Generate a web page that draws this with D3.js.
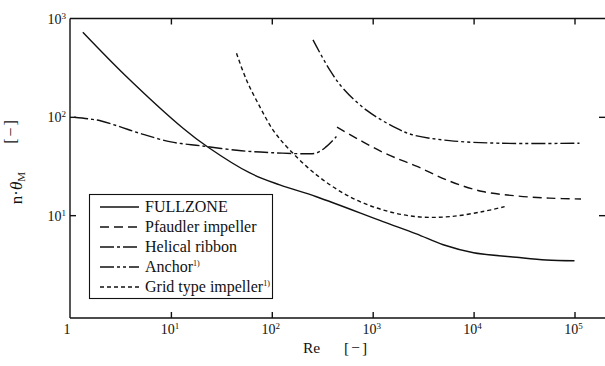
<!DOCTYPE html>
<html lang="en">
<head>
<meta charset="UTF-8">
<title>Mixing time vs Re</title>
<script src="https://d3js.org/d3.v7.min.js"></script>
<style>
  body { margin: 0; background: #fff; }
  svg { display: block; }
  .curve { fill: none; stroke: #111; stroke-width: 1.4px; }
  .axis path, .axis line { stroke: #111; stroke-width: 1.4px; }
</style>
</head>
<body>
<svg id="chart" width="605" height="366"></svg>
<script>
// values, [Re, n*thetaM]
const fullzone = [[1.34, 726], [3.64, 256], [13.2, 76.6], [23.2, 49.3], [60, 27], [120, 20.3],
  [277, 15.4], [1265, 8.6], [2710, 6.45], [5000, 5.0], [10000, 4.15], [26500, 3.73], [52500, 3.5], [100000, 3.44]];
const pfaudler = [[443, 78.4], [1265, 43.5], [2710, 31.5], [5780, 22.2], [12270, 17.4],
  [26500, 15.7], [56500, 14.9], [116000, 14.6]];
const helical = [[1.1, 99], [1.5, 95.5], [2, 91.2], [3, 80.4], [5, 67.6], [10, 55.6], [20, 50.7],
  [50, 45.2], [100, 43.2], [200, 42.2], [277, 42.9], [347, 49.8], [437, 63]];
const anchor = [[256, 606], [375, 300], [508, 195], [867, 117], [1718, 76.6], [2506, 65.5],
  [5780, 57.3], [18100, 53.9], [112000, 53.9]];
const gridType = [[44.7, 443], [56, 238], [76, 127], [103, 73.3], [145, 48], [277, 25.7],
  [592, 15.4], [1265, 11.3], [2710, 9.66], [5780, 9.66], [12400, 10.9], [20300, 12.2]];

const seriesNames = ['FULLZONE', 'Pfaudler impeller', 'Helical ribbon', 'Anchor', 'Grid type impeller'];
const seriesNotes = ['', '', '', '1)', '1)'];
const seriesData = [fullzone, pfaudler, helical, anchor, gridType];
const dashes = ['none', '9,5', '14,3,3,3', '14,3,3,3,3,3', '4,3'];

const xTicks = [1, 10, 100, 1000, 10000, 100000];
const xExp = ['', '1', '2', '3', '4', '5'];
const yTicks = [10, 100, 1000];
const yExp = ['1', '2', '3'];

const svg = d3.select('#chart').attr('font-family', 'Liberation Serif');
const x = d3.scaleLog().domain([1, 1e5]).range([70, 574.5]);
const y = d3.scaleLog().domain([0.9, 1000]).range([318, 18.5]);
const right = 605;

// axes
svg.append('g').attr('class', 'axis')
  .attr('transform', 'translate(0,318)')
  .call(d3.axisBottom(x).tickValues(xTicks.slice(1)).tickSize(-6).tickFormat(''))
  .call(g => g.select('.domain').attr('d', `M70,0H${right}`));

svg.append('g').attr('class', 'axis')
  .attr('transform', 'translate(0,18.5)')
  .call(d3.axisTop(x).tickValues(xTicks.slice(1)).tickSize(-6).tickFormat(''))
  .call(g => g.select('.domain').attr('d', `M70,0H${right}`));

svg.append('g').attr('class', 'axis')
  .attr('transform', 'translate(70,0)')
  .call(d3.axisLeft(y).tickValues(yTicks.slice(0, 2)).tickSize(-6).tickFormat(''))
  .call(g => g.select('.domain').attr('d', 'M0,18.5V318'));

svg.append('g').attr('class', 'axis')
  .attr('transform', `translate(${right},0)`)
  .call(d3.axisRight(y).tickValues(yTicks.slice(0, 2)).tickSize(-6).tickFormat(''))
  .call(g => g.select('.domain').remove());

svg.selectAll('.axis').attr('font-family', 'Liberation Serif');

// tick labels with superscripts
const xl = svg.append('g').attr('font-size', 14).attr('fill', '#111');
xTicks.forEach((t, i) => {
  const txt = xl.append('text').attr('x', i === 0 ? x(t) - 3 : x(t) - 1).attr('y', 334)
    .attr('text-anchor', 'middle');
  txt.append('tspan').text(i === 0 ? '1' : '10');
  if (xExp[i]) txt.append('tspan').attr('font-size', 9).attr('dy', -5).text(xExp[i]);
});

const yl = svg.append('g').attr('font-size', 14).attr('fill', '#111');
yTicks.forEach((t, i) => {
  const txt = yl.append('text').attr('x', 66).attr('y', y(t) + 5.5).attr('text-anchor', 'end');
  txt.append('tspan').text('10');
  txt.append('tspan').attr('font-size', 9).attr('dy', -5).text(yExp[i]);
});

// axis titles
const xt = svg.append('text').attr('y', 353).attr('font-size', 15.5).attr('fill', '#111');
xt.append('tspan').attr('x', 303).text('Re');
xt.append('tspan').attr('x', 344).attr('letter-spacing', 2).text('[−]');

const yt = svg.append('g').attr('transform', 'translate(22,188) rotate(-90)')
  .attr('font-size', 17).attr('fill', '#111');
const ytx = yt.append('text').attr('text-anchor', 'middle');
ytx.append('tspan').text('n·');
ytx.append('tspan').attr('font-style', 'italic').text('θ');
ytx.append('tspan').attr('font-size', 11).attr('dy', 3).text('M');
yt.append('text').attr('x', 57).attr('y', -6).attr('text-anchor', 'middle')
  .attr('letter-spacing', 2).attr('font-size', 16).text('[−]');

// curves
const line = d3.line()
  .x(d => x(d[0]))
  .y(d => y(d[1]))
  .curve(d3.curveCatmullRom.alpha(0.5));

svg.append('g').selectAll('path')
  .data(seriesData)
  .join('path')
  .attr('class', 'curve')
  .attr('stroke-dasharray', (d, i) => dashes[i])
  .attr('d', line);

// legend
const lg = svg.append('g');
lg.append('rect').attr('x', 89.5).attr('y', 194.5).attr('width', 183).attr('height', 104)
  .attr('fill', '#fff').attr('stroke', '#111').attr('stroke-width', 1.1);
seriesNames.forEach((name, i) => {
  const yy = 207 + i * 20;
  lg.append('line').attr('class', 'curve').attr('x1', 100).attr('x2', 139)
    .attr('y1', yy).attr('y2', yy).attr('stroke-dasharray', dashes[i]);
  const t = lg.append('text').attr('x', 145).attr('y', yy + 5).attr('font-size', 16).attr('fill', '#111');
  t.append('tspan').text(name);
  if (seriesNotes[i]) t.append('tspan').attr('font-size', 8).attr('dy', -6).text(seriesNotes[i]);
});
</script>
</body>
</html>
